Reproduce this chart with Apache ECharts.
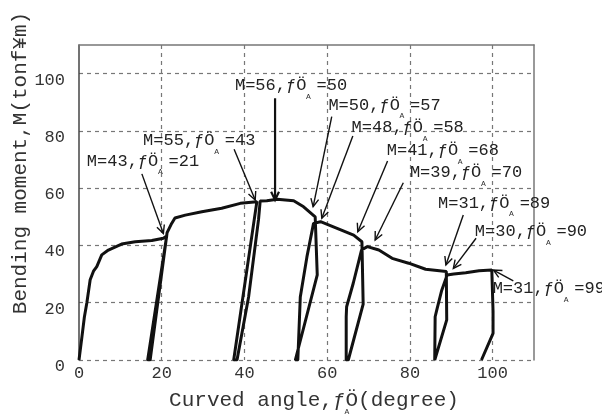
<!DOCTYPE html>
<html>
<head>
<meta charset="utf-8">
<script src="https://cdn.jsdelivr.net/npm/echarts@6/dist/echarts.min.js"></script>
<style>
html,body{margin:0;padding:0;background:#fff}
#main{width:602px;height:419px}
</style>
</head>
<body>
<div id="main"></div>
<script>
/*
 * 曲げ角度 - 曲げモーメント
 */
var angle = [
  0, 0.7, 1.3, 1.9, 2.7, 3.5, 4.3, 5.5, 7.1, 10.3, 13.6, 17.6, 20.4, 21.2,
  16.6, 17.2, 21.3,
  22.4, 23.2, 25.7, 29.7, 34.5, 39.0, 43.0,
  37.4, 38.2, 41.0, 43.4, 43.8,
  45.4, 47.9, 51.9, 54.3, 57.1,
  57.6, 52.3, 52.9, 53.5, 55.1, 56.7, 58.4,
  62.4, 66.4, 68.4,
  68.7, 65.1, 64.6, 64.6, 64.7, 66.3, 68.3, 69.7,
  72.5, 75.7, 79.7, 83.8, 88.8,
  88.9, 86.0, 86.1, 86.5, 87.7, 89.0, 90.6,
  93.5, 96.7, 99.8,
  100.1, 100.1, 97.3
];
var moment = [
  0, 8, 15, 20, 28, 31, 32.6, 36.7, 38.4, 40.5, 41.3, 41.7, 42.5, 43.3,
  0, 0, 44.5,
  47.7, 49.6, 50.6, 51.8, 53.0, 54.7, 55.3,
  0, 0, 22, 49, 55.5,
  55.6, 56.1, 55.6, 53.5, 50.0,
  29.7, 0, 0, 22, 36, 47.7, 48.3,
  46.0, 43.6, 41.3,
  19.5, 0, 0, 15.1, 18.6, 26.8, 38.4, 39.6,
  38.4, 35.5, 33.8, 31.7, 30.9,
  14.0, 0, 15.1, 17.5, 24.4, 29.7, 30.0,
  30.5, 31.2, 31.4,
  17, 9.3, 0
];
var tickStep = 20;

// 注記 (M, θA)
var noteM     = [43, 55, 56, 50, 48, 41, 39, 31, 30, 31];
var noteTheta = [21, 43, 50, 57, 58, 68, 70, 89, 90, 99];
// 注記の位置 (文字の左端) と 矢印
var noteAt    = [[1.9,69.4],[15.5,76.6],[37.7,95.7],[60.3,89.0],[65.9,81.2],[74.4,73.0],[80.0,65.4],[86.8,54.8],[95.7,44.8],[100.0,24.8]];
var arrowFrom = [[15.2,65.0],[37.5,73.6],[47.4,91.4],[61.1,85.0],[66.2,78.2],[74.6,69.5],[78.4,61.9],[92.9,50.6],[96.0,42.5],[105.0,27.6]];
var arrowTo   = [[20.4,44.2],[42.6,55.9],[47.4,55.9],[56.6,53.5],[58.7,49.5],[67.4,44.8],[71.6,41.9],[88.7,33.2],[90.5,32.0],[100.2,31.4]];

var FONT = '"Liberation Mono", "DejaVu Sans Mono", monospace';
var CW = 10.2; // 17px の文字幅

var curve = [];
for (var i = 0; i < angle.length; i++) curve.push([angle[i], moment[i]]);

var myChart = echarts.init(document.getElementById('main'), null, {renderer: 'canvas'});

function borderAxis(pos) {
  return {
    type: 'value', min: 0, max: 110, position: pos,
    axisLine: {show: true, onZero: false, lineStyle: {color: '#777', width: 1.5}},
    axisTick: {show: false}, axisLabel: {show: false}, splitLine: {show: false}
  };
}

myChart.setOption({
  animation: false,
  backgroundColor: '#fff',
  grid: {left: 79, right: 68, top: 45, bottom: 59},
  xAxis: [{
    type: 'value', min: 0, max: 110, interval: tickStep,
    axisLine: {show: false},
    axisTick: {show: false},
    axisLabel: {
      margin: 5, color: '#333', fontFamily: FONT, fontSize: 17,
      formatter: function (v) { return v > 100 ? '' : v; }
    },
    splitLine: {show: true, showMinLine: false, showMaxLine: false,
      lineStyle: {color: '#777', type: [4, 4], width: 1.2}}
  }, borderAxis('top')],
  yAxis: [{
    type: 'value', min: 0, max: 110, interval: tickStep,
    axisLine: {show: true, onZero: false, lineStyle: {color: '#444', width: 1.5}},
    axisTick: {show: false},
    axisLabel: {
      margin: 14, color: '#333', fontFamily: FONT, fontSize: 17,
      verticalAlign: 'top', lineHeight: 13,
      formatter: function (v) { return v > 100 ? '' : v; }
    },
    splitLine: {show: true, showMinLine: true, showMaxLine: false,
      lineStyle: {color: '#777', type: [4, 4], width: 1.2}}
  }, borderAxis('right')],
  graphic: [
    {type: 'text', x: 314, y: 400, style: {text: 'Curved angle,ƒÖ(degree)', font: '21px ' + FONT,
      fill: '#333', align: 'center', verticalAlign: 'middle'}},
    {type: 'text', x: 347, y: 412, style: {text: 'A', font: '8px ' + FONT, fill: '#333',
      align: 'center', verticalAlign: 'middle'}},
    {type: 'text', x: 20, y: 163, rotation: Math.PI / 2,
      style: {text: 'Bending moment,M(tonf¥m)', font: '21px ' + FONT, fill: '#333',
      align: 'center', verticalAlign: 'middle'}}
  ],
  series: [
    {
      type: 'line',
      data: curve,
      showSymbol: false,
      lineStyle: {color: '#111', width: 3},
      z: 3
    },
    {
      // 矢印
      type: 'custom',
      data: noteM.map(function (m, i) { return [arrowFrom[i][0], arrowFrom[i][1], arrowTo[i][0], arrowTo[i][1]]; }),
      renderItem: function (params, api) {
        var p1 = api.coord([api.value(0), api.value(1)]);
        var p2 = api.coord([api.value(2), api.value(3)]);
        var a = Math.atan2(p2[1] - p1[1], p2[0] - p1[0]);
        var L = 9, h = 0.45;
        var w = params.dataIndex === 2 ? 2.2 : 1.4;
        var st = {stroke: '#111', lineWidth: w, fill: null};
        return {type: 'group', children: [
          {type: 'line', shape: {x1: p1[0], y1: p1[1], x2: p2[0], y2: p2[1]}, style: st},
          {type: 'polyline', shape: {points: [
            [p2[0] - L * Math.cos(a - h), p2[1] - L * Math.sin(a - h)],
            [p2[0], p2[1]],
            [p2[0] - L * Math.cos(a + h), p2[1] - L * Math.sin(a + h)]
          ]}, style: st}
        ]};
      },
      z: 4
    },
    {
      // 注記文字
      type: 'custom',
      data: noteAt,
      renderItem: function (params, api) {
        var i = params.dataIndex;
        var p = api.coord([api.value(0), api.value(1)]);
        var txt = 'M=' + noteM[i] + ',ƒÖ =' + noteTheta[i];
        var k = txt.indexOf(' ');
        return {type: 'group', children: [
          {type: 'text', x: p[0], y: p[1], style: {text: txt, font: '17px ' + FONT, fill: '#222',
            align: 'left', verticalAlign: 'middle'}},
          {type: 'text', x: p[0] + (k + 0.2) * CW, y: p[1] + 11, style: {text: 'A', font: '8px ' + FONT,
            fill: '#333', align: 'center', verticalAlign: 'middle'}}
        ]};
      },
      z: 5
    }
  ]
});
</script>
</body>
</html>
